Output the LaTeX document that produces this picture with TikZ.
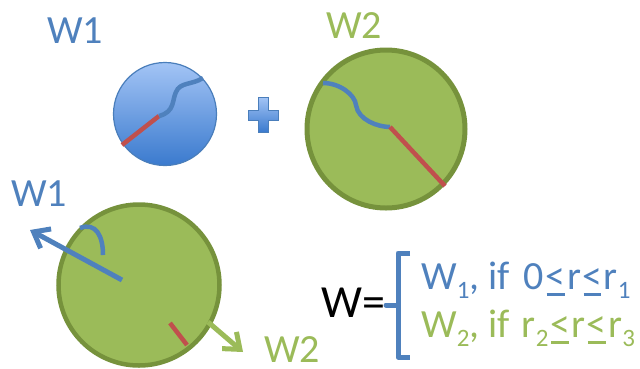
\documentclass[tikz,border=0pt]{standalone}
\usepackage{fontspec}
\setmainfont{Carlito}
\usetikzlibrary{arrows.meta}
\definecolor{wblue}{RGB}{79,129,189}
\definecolor{wgreen}{RGB}{155,187,89}
\definecolor{wdgreen}{RGB}{118,146,60}
\definecolor{wred}{RGB}{192,80,77}
\definecolor{ctop}{RGB}{163,196,245}
\definecolor{cbot}{RGB}{58,122,206}
\definecolor{cedge}{RGB}{74,126,187}
\newcommand\wsub[1]{\raisebox{-9pt}{\fontsize{25}{25}\selectfont #1}}
\newcommand\wule[1]{\hspace{1.5pt}\setbox0\hbox{#1}\rlap{\hspace{1pt}\rule[-7pt]{\dimexpr\wd0-2pt\relax}{3.5pt}}\box0\hspace{1.5pt}}
\begin{document}
\begin{tikzpicture}[x=1pt,y=-1pt,
  lbl/.style={inner sep=0pt, anchor=base west, font=\fontsize{40}{40}\selectfont},
  greendisc/.style={circle, draw=wdgreen, fill=wgreen, line width=5pt, inner sep=0pt},
  bluestroke/.style={draw=wblue, line width=4.5pt},
  redstroke/.style={draw=wred, line width=4.5pt},
  barb/.style={-{Straight Barb[length=14pt,width=22pt]}, line width=5pt}]
\useasboundingbox (0,0) rectangle (640,368);

% top left blue disc
\node[circle, minimum size=103pt, inner sep=0pt, top color=ctop, bottom color=cbot, draw=cedge, line width=1.2pt] (c1) at (165,114) {};
\coordinate (c1a) at (122,145);
\coordinate (c1b) at (159,116);
\coordinate (c1c) at (203,78);
\draw[redstroke] (c1a) -- (c1b);
\draw[bluestroke] (c1b) .. controls (175,112) and (172,100) .. (176,92) .. controls (180,82) and (192,85) .. (c1c);

% plus
\path[top color=ctop, bottom color=cbot, draw=cedge, line width=0.8pt]
  (258,97) -- (268,97) -- (268,110) -- (278,110) -- (278,120) -- (268,120) -- (268,132)
  -- (258,132) -- (258,120) -- (248,120) -- (248,110) -- (258,110) -- cycle;

% top right green disc
\node[greendisc, minimum size=158pt] (c2) at (386,129) {};
\coordinate (c2a) at (323,83);
\coordinate (c2b) at (390,127);
\coordinate (c2c) at (445,186);
\draw[bluestroke] (c2a) .. controls (340,83) and (355,95) .. (356,105) .. controls (358,120) and (378,127) .. (c2b);
\draw[redstroke] (c2b) -- (c2c);

% bottom green disc
\node[greendisc, minimum size=161pt, line width=4.5pt] (c3) at (139,285) {};
\coordinate (c3o) at (122,280);
\coordinate (c3tip) at (30,230);
\draw[wblue, barb] (c3o) -- (c3tip);
\coordinate (arcA) at (80,228);
\coordinate (arcB) at (103,255);
\draw[bluestroke] (arcA) .. controls (96,222) and (103,236) .. (arcB);
\coordinate (r3a) at (170,323);
\coordinate (r3b) at (187,345);
\draw[redstroke] (r3a) -- (r3b);
\coordinate (g3a) at (208,322);
\coordinate (g3b) at (243,352);
\draw[wgreen, barb] (g3a) -- (g3b);

% labels
\node[lbl, text=wblue] (lw1) at (47,43) {W1};
\node[lbl, text=wgreen] (lw2) at (326,38) {W2};
\node[lbl, text=wblue] (lw1b) at (11,206) {W1};
\node[lbl, text=wgreen] (lw2b) at (264,362) {W2};

% formula
\node[inner sep=0pt, anchor=base west, font=\fontsize{46}{46}\selectfont] (weq) at (321,317) {W=};
\coordinate (bt) at (410,253);
\coordinate (bb) at (410,357);
\coordinate (bn) at (386,305);
\draw[wblue, line width=5pt, line join=round] (bt) -- (398,253) -- (398,357) -- (bb);
\draw[wblue, line width=5pt, line cap=round] (398,305) -- (bn);
\node[lbl, text=wblue] (f1) at (421,289) {W\wsub{1}, if\hspace{5pt} 0\wule{<}r\wule{<}r\wsub{1}};
\node[lbl, text=wgreen] (f2) at (421,337) {W\wsub{2}, if\hspace{3pt} r\wsub{2}\wule{<}r\wule{<}r\wsub{3}};
\end{tikzpicture}
\end{document}
